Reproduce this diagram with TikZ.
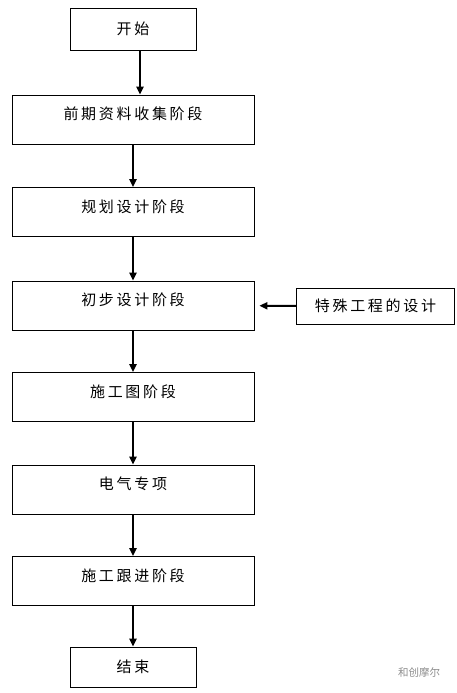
\documentclass[tikz,border=0pt]{standalone}
\usepackage{fontspec}
\newfontfamily\cjk[LetterSpace=18]{Noto Sans CJK SC}
\newfontfamily\markfont{Noto Sans CJK SC}
\usetikzlibrary{arrows.meta,positioning}
\begin{document}
\begin{tikzpicture}[x=1pt,y=-1pt,
    box/.style={draw,line width=0.8pt,inner sep=0pt,font=\cjk\fontsize{15}{17}\selectfont},
    stage/.style={box,minimum width=242pt,minimum height=49pt,text height=8pt,text depth=8pt},
    ends/.style={box,minimum width=126pt,minimum height=42pt},
    flow/.style={line width=2pt,-{Triangle[width=7pt,length=8pt]}}]
    \useasboundingbox (0,0) rectangle (456,693);
    \newcommand{\axisx}{133}
    \node[ends] (start) at (\axisx,29) {开始};
    \node[stage] (collect) at (\axisx,119.5) {前期资料收集阶段};
    \node[stage] (plan) at (\axisx,212) {规划设计阶段};
    \node[stage] (prelim) at (\axisx,305.5) {初步设计阶段};
    \node[box,minimum width=158pt,minimum height=36pt] (special) at (375.5,306) {特殊工程的设计};
    \node[stage] (drawing) at (\axisx,397) {施工图阶段};
    \node[stage] (elec) at (\axisx,489.5) {电气专项};
    \node[stage] (follow) at (\axisx,581) {施工跟进阶段};
    \node[ends,minimum height=40pt] (finish) at (\axisx,667) {结束};
    %\node at (386,672) {icon};
    \node[text=black!45,font=\markfont\fontsize{10.5}{12}\selectfont] (mark) at (419,672) {和创摩尔};
    \draw[flow] ([xshift=7pt]start.south) -- ([xshift=7pt]start.south |- collect.north);
    \draw[flow] (collect) -- (plan);
    \draw[flow] (plan) -- (prelim);
    \draw[flow] (prelim) -- (drawing);
    \draw[flow] (drawing) -- (elec);
    \draw[flow] (elec) -- (follow);
    \draw[flow] (follow) -- (finish);
    \draw[flow,shorten >=5pt] (special) -- (prelim);
\end{tikzpicture}
\end{document}
